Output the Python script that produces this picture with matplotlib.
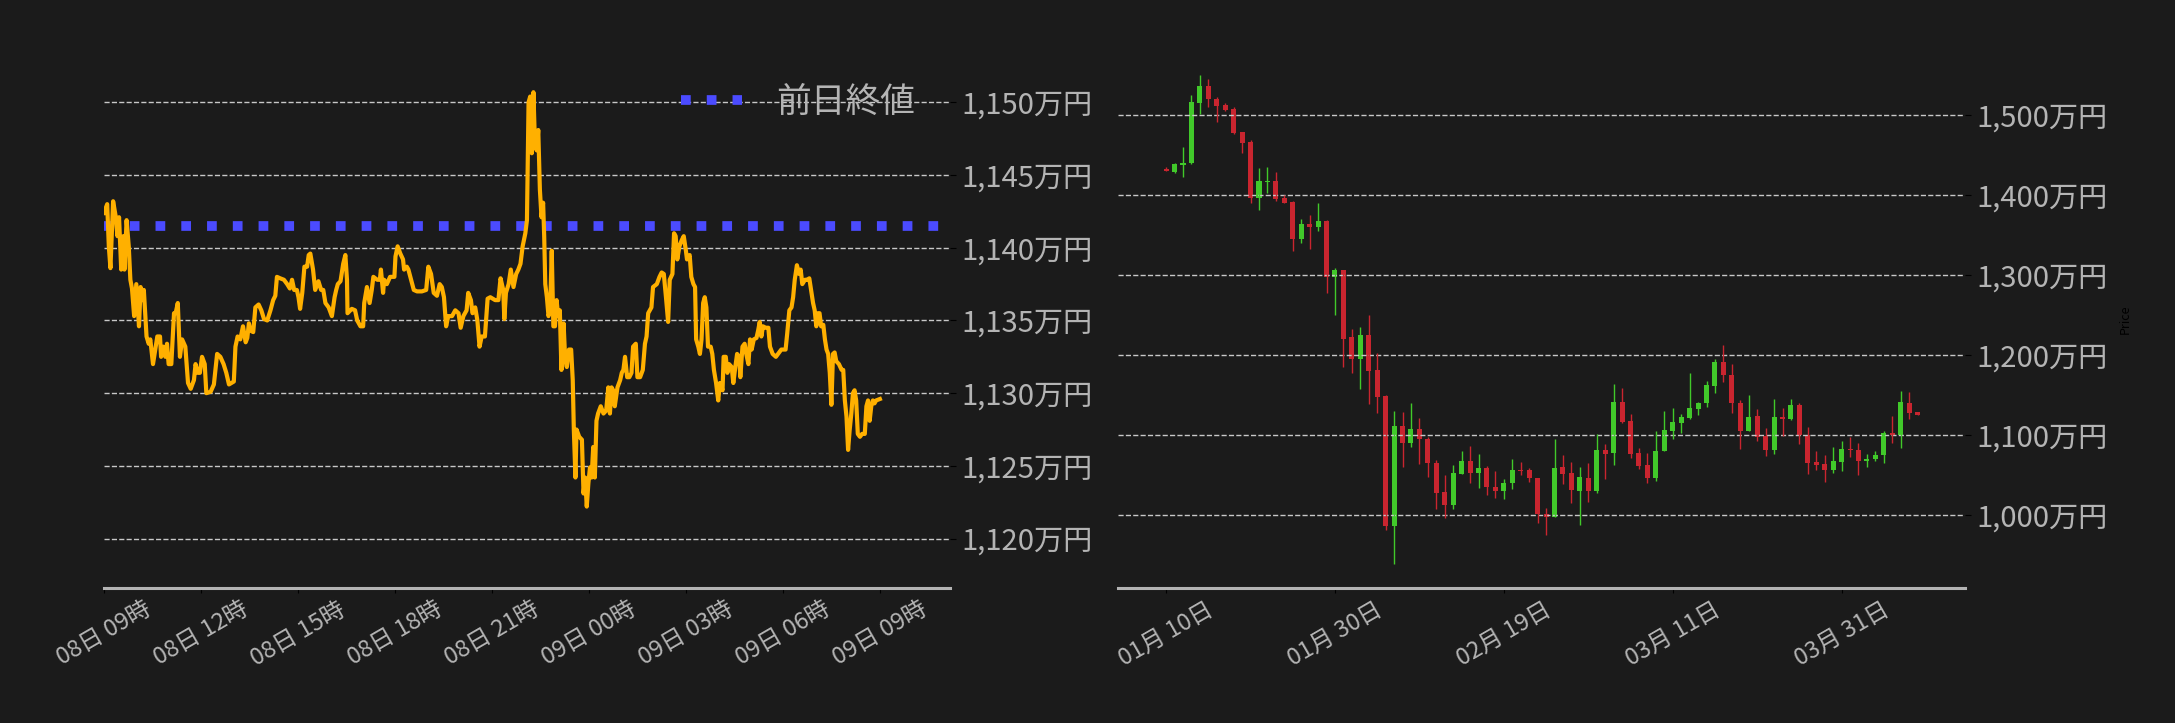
import matplotlib

matplotlib.use("Agg")
import matplotlib.dates as mdates
import matplotlib.pyplot as plt
import matplotlib.ticker as mticker
import pandas as pd

plt.rcParams["font.family"] = ["Noto Sans CJK JP", "DejaVu Sans"]

# --- intraday line (minutes after 08日 09:00, price in 万円) ---
line_start = pd.Timestamp("2025-04-08 09:00")
line_minutes = [
    0, 6, 9, 12, 17, 22, 25, 28, 32, 36,
    38, 42, 46, 49, 52, 56, 60, 65, 68, 71,
    74, 79, 83, 86, 91, 96, 99, 104, 106, 110,
    114, 117, 120, 125, 130, 133, 137, 141, 145, 151,
    156, 161, 167, 170, 174, 178, 182, 187, 190, 198,
    204, 210, 216, 222, 227, 232, 241, 244, 248, 253,
    258, 263, 266, 269, 272, 277, 281, 287, 292, 297,
    303, 309, 314, 318, 321, 327, 334, 340, 345, 349,
    353, 358, 361, 364, 368, 372, 377, 380, 383, 388,
    392, 398, 403, 407, 411, 417, 423, 428, 431, 434,
    439, 444, 448, 451, 452, 460, 466, 470, 476, 481,
    483, 488, 493, 497, 500, 507, 512, 514, 518, 520,
    525, 531, 539, 541, 545, 550,
    555, 557, 562, 565, 570, 575, 581, 590, 598, 602,
    607, 612, 618, 623, 627, 631, 635, 639, 646, 652,
    658, 662, 667, 673, 676, 681, 684, 689, 693, 697,
    701, 707, 712, 717, 726, 732, 736, 741, 743, 746,
    751, 755, 760, 765, 769, 773, 777, 782, 785, 788,
    791, 794, 797, 800, 803, 806, 809, 812, 815, 817,
    819, 822, 825, 828, 831, 834, 837, 840, 843, 846,
    849, 853, 856, 859, 863, 867, 870, 872, 875, 877,
    882, 887, 890, 893, 896, 899, 902, 905, 908, 911,
    914, 917, 922, 927, 932, 936, 939, 942, 945, 948,
    953, 958, 961, 964, 967, 971, 975, 979, 982, 987,
    990, 995, 1000, 1004, 1007, 1010, 1013, 1016, 1019, 1026,
    1031, 1035, 1039, 1043, 1047, 1050, 1055, 1058, 1061, 1064,
    1068,
    1072, 1076, 1080, 1082, 1087, 1090, 1094, 1097, 1099, 1103,
    1106, 1109, 1112, 1115, 1118, 1121, 1126, 1129, 1132, 1136,
    1140, 1143, 1148, 1150, 1154, 1157, 1160, 1165, 1168, 1171,
    1175, 1179, 1181, 1185, 1189, 1192, 1196, 1199, 1202, 1206,
    1211, 1214, 1217, 1220, 1223, 1228, 1233, 1236, 1241, 1247,
    1251, 1257, 1265, 1268, 1272, 1276, 1279, 1282, 1286, 1290,
    1293, 1296, 1301, 1305, 1309, 1313, 1316, 1319, 1322, 1325,
    1328, 1331, 1335, 1338, 1341, 1344, 1347, 1350, 1353, 1356,
    1359, 1364, 1369, 1372, 1375, 1378, 1381, 1384, 1387, 1390,
    1393, 1396, 1399, 1403, 1407, 1412, 1415, 1418, 1421, 1424,
    1427, 1430, 1433, 1440,
]
line_prices = [
    1142.4, 1143.0, 1140.1, 1138.6, 1143.2, 1142.1, 1140.8, 1142.1, 1138.5, 1140.8,
    1138.5, 1141.9, 1140.1, 1137.8, 1137.2, 1135.3, 1137.5, 1134.6, 1137.3, 1136.4,
    1137.1, 1133.9, 1133.4, 1133.7, 1132.0, 1133.2, 1133.9, 1133.9, 1132.5, 1133.2,
    1132.5, 1133.4, 1132.0, 1132.0, 1135.5, 1135.5, 1136.2, 1132.5, 1133.7, 1133.2,
    1130.7, 1130.3, 1130.9, 1132.0, 1131.4, 1131.4, 1132.5, 1132.0, 1130.0, 1130.1,
    1130.6, 1132.7, 1132.5, 1132.0, 1131.4, 1130.6, 1130.8, 1133.2, 1133.9, 1133.7,
    1134.6, 1133.5, 1133.8, 1134.8, 1134.3, 1134.2, 1135.9, 1136.1, 1135.7, 1135.1,
    1135.0, 1135.7, 1136.4, 1136.7, 1138.0, 1137.9, 1137.8, 1137.5, 1137.2, 1137.8,
    1137.1, 1137.1, 1136.6, 1135.8, 1136.9, 1138.7, 1138.7, 1139.5, 1139.6, 1138.5,
    1137.1, 1137.7, 1137.1, 1137.1, 1136.2, 1135.9, 1135.3, 1136.6, 1137.1, 1137.5,
    1137.7, 1138.9, 1139.5, 1137.8, 1135.5, 1135.8, 1135.7, 1135.0, 1134.6, 1134.6,
    1136.2, 1137.3, 1136.2, 1137.1, 1138.0, 1137.8, 1137.8, 1138.5, 1136.9, 1137.8,
    1137.5, 1138.0, 1138.0, 1139.4, 1140.1, 1139.6,
    1139.2, 1138.5, 1138.7, 1138.5, 1137.8, 1137.1, 1137.0, 1137.0, 1137.1, 1138.7,
    1138.2, 1136.9, 1136.7, 1137.5, 1137.3, 1136.6, 1134.6, 1135.3, 1135.3, 1135.7,
    1135.5, 1134.5, 1135.3, 1135.7, 1136.9, 1136.4, 1135.5, 1135.9, 1135.0, 1133.2,
    1133.9, 1133.9, 1136.5, 1136.6, 1136.4, 1136.4, 1137.9, 1137.1, 1135.1, 1136.9,
    1137.5, 1138.5, 1137.3, 1138.2, 1138.5, 1138.9, 1140.1, 1141.0, 1141.9, 1150.0,
    1150.4, 1146.5, 1150.7, 1147.0, 1146.7, 1148.1, 1144.0, 1142.1, 1143.1, 1140.8,
    1137.5, 1136.6, 1135.3, 1135.7, 1139.8, 1134.6, 1134.6, 1136.4, 1135.3, 1135.7,
    1131.6, 1134.8, 1132.3, 1131.8, 1133.0, 1133.0, 1130.9, 1127.5, 1124.2, 1127.5,
    1127.0, 1126.8, 1123.1, 1124.2, 1122.2, 1123.8, 1124.9, 1124.2, 1126.3, 1124.2,
    1128.1, 1128.6, 1129.1, 1128.6, 1128.8, 1130.4, 1128.6, 1130.4, 1130.2, 1129.1,
    1130.4, 1130.9, 1131.4, 1131.6, 1132.5, 1131.1, 1131.1, 1131.4, 1133.2, 1133.4,
    1131.1, 1131.1, 1131.6, 1133.4, 1133.9, 1135.5, 1135.7, 1135.9, 1137.3, 1137.5,
    1138.0, 1138.3, 1138.2, 1136.6, 1134.9, 1137.8, 1138.2, 1141.0, 1140.8, 1139.2,
    1140.1,
    1140.5, 1140.8, 1139.8, 1139.2, 1139.5, 1138.0, 1137.5, 1137.3, 1133.7, 1133.2,
    1132.7, 1133.7, 1136.2, 1136.6, 1135.9, 1133.2, 1133.2, 1132.7, 1131.6, 1130.7,
    1129.5, 1130.7, 1130.2, 1132.5, 1132.5, 1131.4, 1132.0, 1131.8, 1130.7, 1131.6,
    1132.7, 1132.5, 1131.1, 1133.2, 1133.4, 1132.7, 1132.0, 1133.7, 1133.0, 1133.7,
    1133.8, 1134.3, 1134.9, 1133.9, 1134.6, 1134.5, 1134.5, 1133.2, 1132.7, 1132.5,
    1132.7, 1133.0, 1133.0, 1134.1, 1135.7, 1135.9, 1136.6, 1137.8, 1138.8, 1138.2,
    1138.5, 1137.5, 1137.8, 1137.8, 1137.9, 1136.9, 1136.2, 1135.7, 1134.6, 1135.5,
    1135.5, 1134.6, 1134.7, 1133.7, 1133.0, 1132.7, 1131.4, 1129.2, 1132.7, 1132.8,
    1132.2, 1132.0, 1131.6, 1131.6, 1129.5, 1128.4, 1126.1, 1127.5, 1128.6, 1130.0,
    1130.2, 1129.5, 1127.2, 1127.0, 1127.2, 1127.2, 1129.1, 1129.5, 1128.1, 1129.1,
    1129.5, 1129.3, 1129.5, 1129.6,
]
prev_close = 1141.5

# --- daily candles (万円) ---
candle_start = pd.Timestamp("2025-01-10")
candle_open = [
    1433, 1429, 1438, 1440, 1516, 1537, 1520, 1513, 1508, 1479,
    1467, 1397, 1417, 1418, 1397, 1392, 1346, 1364, 1361, 1368,
    1298, 1307, 1223, 1195, 1225, 1182, 1149, 986, 1112, 1090,
    1108, 1095, 1065, 1029, 1013, 1052, 1068, 1053, 1059, 1035,
    1030, 1040, 1057, 1057, 1047, 1002, 998, 1060, 1053, 1030,
    1047, 1030, 1082, 1078, 1142, 1118, 1078, 1063, 1046, 1080,
    1106, 1116, 1122, 1133, 1140, 1162, 1192, 1175, 1140, 1106,
    1124, 1099, 1081, 1123, 1121, 1138, 1100, 1067, 1064, 1057,
    1067, 1083, 1082, 1068, 1070, 1075, 1103, 1100, 1140, 1129,
]
candle_high = [
    1435, 1441, 1461, 1526, 1551, 1545, 1523, 1515, 1510, 1479,
    1469, 1434, 1435, 1429, 1401, 1393, 1370, 1375, 1390, 1369,
    1309, 1307, 1233, 1236, 1250, 1203, 1150, 1130, 1129, 1140,
    1122, 1098, 1069, 1050, 1063, 1080, 1087, 1076, 1062, 1055,
    1045, 1070, 1067, 1059, 1047, 1009, 1096, 1075, 1067, 1060,
    1065, 1102, 1089, 1164, 1159, 1127, 1084, 1078, 1105, 1131,
    1134, 1127, 1178, 1142, 1168, 1195, 1213, 1189, 1144, 1151,
    1133, 1109, 1145, 1134, 1146, 1141, 1110, 1080, 1075, 1086,
    1093, 1098, 1090, 1077, 1080, 1105, 1124, 1155, 1154, 1129,
]
candle_low = [
    1430, 1428, 1423, 1439, 1502, 1511, 1492, 1506, 1477, 1453,
    1390, 1382, 1403, 1393, 1391, 1331, 1340, 1333, 1356, 1278,
    1250, 1185, 1178, 1158, 1139, 1128, 981, 939, 1060, 1085,
    1064, 1048, 1008, 996, 1008, 1051, 1040, 1034, 1025, 1021,
    1020, 1033, 1050, 1042, 990, 975, 998, 1039, 1015, 988,
    1016, 1028, 1045, 1063, 1115, 1071, 1058, 1040, 1043, 1080,
    1095, 1103, 1120, 1126, 1135, 1153, 1167, 1128, 1083, 1105,
    1093, 1074, 1076, 1099, 1119, 1089, 1052, 1057, 1042, 1053,
    1055, 1073, 1050, 1060, 1068, 1065, 1091, 1084, 1120, 1125,
]
candle_close = [
    1430, 1439, 1440, 1517, 1537, 1520, 1512, 1507, 1478, 1466,
    1397, 1418, 1418, 1396, 1391, 1346, 1364, 1361, 1368, 1298,
    1307, 1221, 1195, 1225, 1181, 1148, 986, 1112, 1090, 1108,
    1095, 1065, 1028, 1013, 1053, 1068, 1053, 1059, 1035, 1030,
    1040, 1057, 1055, 1046, 1001, 998, 1059, 1052, 1031, 1048,
    1030, 1082, 1077, 1142, 1117, 1077, 1062, 1046, 1080, 1107,
    1117, 1123, 1134, 1140, 1163, 1192, 1176, 1140, 1106, 1123,
    1098, 1081, 1123, 1121, 1138, 1100, 1065, 1063, 1057, 1068,
    1083, 1081, 1068, 1070, 1075, 1103, 1100, 1142, 1128, 1125,
]

BG = "#1b1b1b"
TEXT = "#b4b4b4"
UP = "#41c92a"
DOWN = "#c9252f"


def style_axes(ax):
    ax.set_facecolor(BG)
    for side in ("top", "left", "right"):
        ax.spines[side].set_visible(False)
    ax.spines["bottom"].set_color(TEXT)
    ax.spines["bottom"].set_linewidth(2.2)
    ax.yaxis.tick_right()
    ax.grid(axis="y", linestyle="--", color="#c8c8c8", linewidth=1)
    ax.tick_params(axis="y", colors="#000000", labelcolor=TEXT,
                   labelsize=21, length=4.5, pad=4)
    ax.tick_params(axis="x", colors="#000000", labelcolor=TEXT,
                   labelsize=17, length=3.5)
    ax.yaxis.set_major_formatter(
        mticker.FuncFormatter(lambda v, _: f"{v:,.0f}万円"))
    for lbl in ax.get_xticklabels():
        lbl.set_rotation(30)
        lbl.set_ha("center")


fig = plt.figure(figsize=(21.75, 7.23), dpi=100, facecolor=BG)
ax1 = fig.add_axes([0.0478, 0.1867, 0.389, 0.7441])
ax2 = fig.add_axes([0.514, 0.1867, 0.3894, 0.7441])

# left: intraday price vs previous close
times = [line_start + pd.Timedelta(minutes=m) for m in line_minutes]
ax1.axhline(prev_close, color="#4b4bff", linestyle=":", linewidth=7,
            label="前日終値", zorder=2)
ax1.plot(times, line_prices, color="#ffb000", linewidth=3, zorder=3)
ax1.set_xlim(line_start, line_start + pd.Timedelta(hours=26.17))
ax1.set_ylim(1116.6, 1153.6)
ax1.yaxis.set_major_locator(mticker.MultipleLocator(5))
ax1.xaxis.set_major_locator(mdates.HourLocator(byhour=range(0, 24, 3)))
ax1.xaxis.set_major_formatter(mdates.DateFormatter("%d日 %H時"))
ax1.legend(loc="upper right", frameon=False, fontsize=25,
           labelcolor=TEXT, handlelength=1.75, handletextpad=1.0,
           borderaxespad=0.6)

# right: daily candlesticks
dates = [candle_start + pd.Timedelta(days=i) for i in range(len(candle_open))]
colors = [UP if c >= o else DOWN for o, c in zip(candle_open, candle_close)]
bottoms = [min(o, c) for o, c in zip(candle_open, candle_close)]
heights = [max(abs(c - o), 1.2) for o, c in zip(candle_open, candle_close)]
ax2.vlines(dates, candle_low, candle_high, colors=colors, linewidth=1)
ax2.bar(dates, heights, bottom=bottoms, width=0.6, color=colors)
ax2.set_xlim(candle_start - pd.Timedelta(days=5.7),
             candle_start + pd.Timedelta(days=94.6))
ax2.set_ylim(909.1, 1581.6)
ax2.yaxis.set_major_locator(mticker.MultipleLocator(100))
ax2.set_xticks(dates[::20])
ax2.xaxis.set_major_formatter(mdates.DateFormatter("%m月 %d日"))
ax2.yaxis.set_label_position("right")
ax2.set_ylabel("Price", color="#000000", fontsize=9, labelpad=8)

style_axes(ax1)
style_axes(ax2)

fig.savefig("out.png", dpi=100, facecolor=BG)
